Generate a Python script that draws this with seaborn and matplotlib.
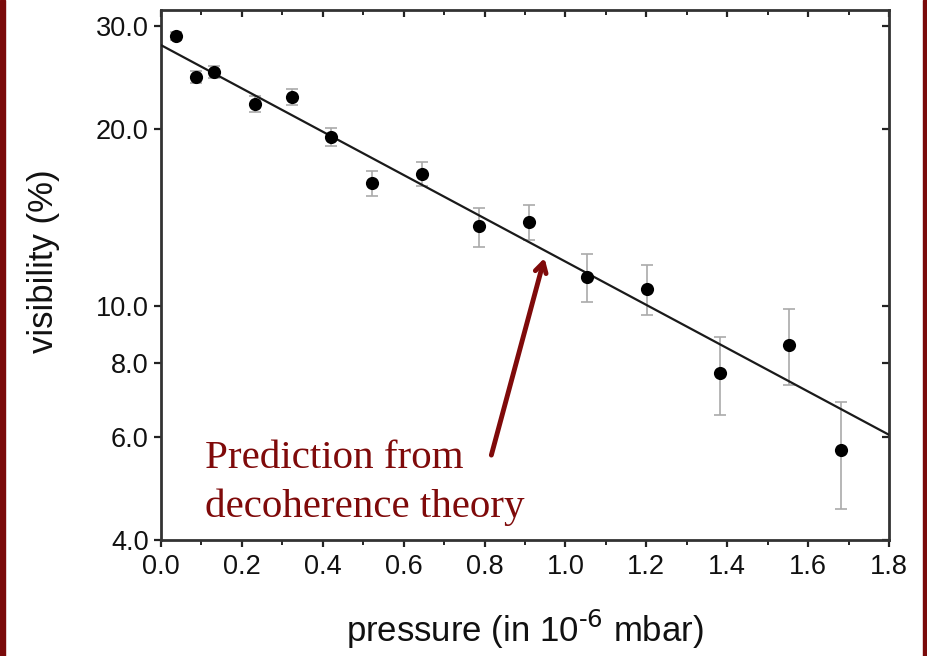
import numpy as np
import pandas as pd
import matplotlib
matplotlib.use("Agg")
import matplotlib.pyplot as plt
import seaborn as sns
from matplotlib.ticker import FixedLocator, NullLocator, MultipleLocator, FixedFormatter

# ---- data ----
pressure = [0.037, 0.087, 0.131, 0.232, 0.324, 0.420, 0.522, 0.645, 0.786, 0.910, 1.053, 1.202, 1.382, 1.553, 1.681]
visibility = [28.8, 24.5, 25.0, 22.1, 22.7, 19.4, 16.2, 16.8, 13.66, 13.9, 11.2, 10.7, 7.7, 8.6, 5.69]
vis_err = [0.45, 0.58, 0.60, 0.70, 0.73, 0.70, 0.78, 0.81, 1.05, 0.96, 1.05, 1.06, 1.17, 1.27, 1.18]
pred_x = [0.0, 1.8]
pred_y = [27.8, 6.04]
yticks = [4.0, 6.0, 8.0, 10.0, 20.0, 30.0]
ytick_labels = ["4.0", "6.0", "8.0", "10.0", "20.0", "30.0"]

df = pd.DataFrame({"pressure": pressure, "visibility": visibility, "err": vis_err})
pred = pd.DataFrame({"x": pred_x, "y": pred_y})

sns.set_style("ticks")
plt.rcParams['font.family'] = ['Liberation Sans', 'DejaVu Sans']

fig = plt.figure(figsize=(9.28, 6.56), dpi=100)
ax = fig.add_axes([161/928, 1 - 540/656, (889-161)/928, (540-10)/656])

ax.errorbar(df["pressure"], df["visibility"], yerr=df["err"], fmt="none",
            ecolor="#aaaaaa", elinewidth=1.2, capsize=4.5, capthick=1.2, zorder=2)
sns.lineplot(data=pred, x="x", y="y", ax=ax, color="#1a1a1a", linewidth=1.6, zorder=3)
sns.scatterplot(data=df, x="pressure", y="visibility", ax=ax, color="black",
                s=90, edgecolor="black", linewidth=0, zorder=4)

ax.set_yscale("log")
ax.set_ylim(4.0, 31.9)
ax.set_xlim(0, 1.8)
ax.yaxis.set_major_locator(FixedLocator(yticks))
ax.yaxis.set_major_formatter(FixedFormatter(ytick_labels))
ax.yaxis.set_minor_locator(NullLocator())
ax.xaxis.set_major_locator(MultipleLocator(0.2))
ax.xaxis.set_minor_locator(MultipleLocator(0.1))
ax.xaxis.set_major_formatter(matplotlib.ticker.FormatStrFormatter("%.1f"))

for s in ax.spines.values():
    s.set_linewidth(2)
    s.set_color("#333333")
ax.tick_params(axis="both", which="major", labelsize=19.5, width=1.6, length=5,
               color="#222222", labelcolor="#111111")
ax.tick_params(axis="y", which="major", pad=4)
ax.tick_params(axis="x", which="major", pad=5)
ax.tick_params(axis="x", which="minor", width=1.4, length=3.5, color="#222222")
ax.tick_params(axis="x", which="both", top=True, direction="out")
ax.tick_params(axis="y", which="both", right=True, direction="out")
# top/right ticks point inward
for t in ax.xaxis.get_major_ticks() + ax.xaxis.get_minor_ticks():
    t.tick2line.set_marker(3)
for t in ax.yaxis.get_major_ticks():
    t.tick2line.set_marker(0)

ax.set_xlabel(r"pressure (in 10$^{\text{-6}}$ mbar)", fontsize=25, color="#111111")
ax.xaxis.set_label_coords(0.5, -0.128)
ax.set_ylabel("visibility (%)", fontsize=25, color="#111111")
ax.yaxis.set_label_coords(-0.139, 0.526)

ax.text(0.109, 4.22, "Prediction from\ndecoherence theory", fontsize=29.5,
        family=["Liberation Serif", "DejaVu Serif"], color="#7f0a0a",
        linespacing=1.42, va="bottom", ha="left")
ax.annotate("", xy=(0.95, 12.2), xytext=(0.815, 5.52),
            arrowprops=dict(arrowstyle="->,head_length=0.7,head_width=0.4",
                            color="#7f0a0a", lw=3.5))

# dark red side borders
fig.patches.append(plt.Rectangle((0, 0), 5/928, 1, transform=fig.transFigure,
                                 color="#7a0a0a", zorder=10))
fig.patches.append(plt.Rectangle((923/928, 0), 5/928, 1, transform=fig.transFigure,
                                 color="#7a0a0a", zorder=10))

fig.savefig("out.png", dpi=100)
